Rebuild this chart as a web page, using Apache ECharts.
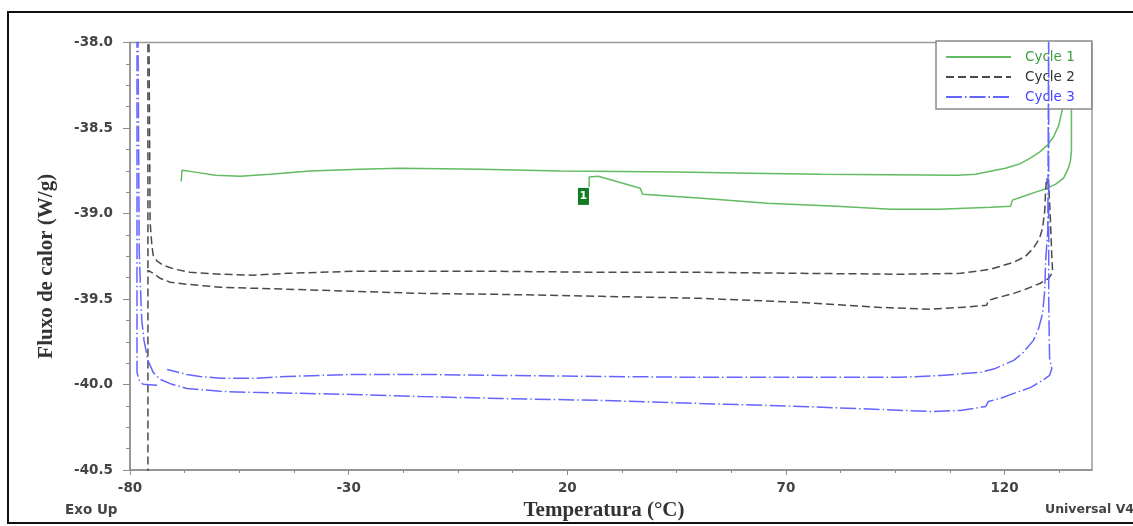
<!DOCTYPE html>
<html>
<head>
<meta charset="utf-8">
<title>Fluxo de calor x Temperatura</title>
<script src="https://cdn.jsdelivr.net/npm/echarts@6/dist/echarts.min.js"></script>
<style>
  html, body { margin: 0; padding: 0; background: #fff; }
  #chart { width: 1133px; height: 526px; }
</style>
</head>
<body>
<div id="chart"></div>
<script>
// Axis ticks (°C and W/g)
const xMajorTicks = [-80, -30, 20, 70, 120];
const yTicks = [-40.5, -40.0, -39.5, -39.0, -38.5, -38.0];

// Cycle 1: heating trace, overshoot at the top, cooling trace back to the marker
const cycle1Temp = [-68.3, -68.1, -65.1, -60.5, -54.8, -48.0, -38.8, -27.4, -18.2, 0.1, 18.4, 45.2, 61.9, 77.9,
  109.2, 113.4, 117.0, 120.2, 123.4, 125.9, 128.0, 129.8, 131.2, 132.4, 133.3, 134.0, 134.4, 134.9, 135.1,
  135.3, 135.3, 135.3, 135.1, 134.6, 133.5, 131.7, 129.8, 127.1, 123.7, 121.8, 121.4, 116.8, 105.1, 94.1,
  81.6, 65.8, 50.0, 37.2, 36.7, 27.1, 25.0, 25.0];
const cycle1Flow = [-38.812, -38.747, -38.758, -38.776, -38.782, -38.770, -38.752, -38.741, -38.735, -38.741,
  -38.752, -38.758, -38.764, -38.770, -38.776, -38.770, -38.752, -38.735, -38.711, -38.676, -38.641, -38.600,
  -38.553, -38.483, -38.383, -38.249, -38.102, -37.997, -37.90, -37.93, -38.383, -38.629, -38.688, -38.735,
  -38.793, -38.828, -38.852, -38.875, -38.905, -38.922, -38.957, -38.963, -38.975, -38.975, -38.957, -38.940,
  -38.910, -38.887, -38.852, -38.782, -38.787, -38.846];
const cycle1Marker = { label: '1', temp: 23.7, flow: -38.90 };

// Cycle 2: upper trace out and lower trace back
const cycle2Temp = [-75.7, -75.4, -75.0, -74.7, -73.8, -72.4, -69.7, -66.3, -59.4, -51.9, -44.1, -29.0, -13.6, 4.7,
  27.6, 50.4, 73.3, 96.2, 109.9, 116.8, 122.1, 124.8, 126.6, 128.0, 128.7, 129.2, 129.4, 129.6, 130.1, 130.5,
  130.8, 131.0, 130.1, 128.2, 124.8, 122.1, 117.9, 116.3, 115.9, 109.9, 103.1, 91.6, 73.3, 50.4, 27.6, 4.7,
  -13.6, -29.0, -44.1, -59.4, -67.0, -70.8, -73.1, -74.7, -75.9, -75.9];
const cycle2Flow = [-37.8, -39.05, -39.186, -39.244, -39.279, -39.303, -39.326, -39.344, -39.355, -39.361, -39.350,
  -39.338, -39.338, -39.338, -39.344, -39.344, -39.350, -39.355, -39.350, -39.326, -39.285, -39.250, -39.203,
  -39.145, -39.086, -38.981, -38.864, -38.793, -38.834, -39.039, -39.244, -39.344, -39.379, -39.408, -39.443,
  -39.467, -39.496, -39.508, -39.537, -39.549, -39.560, -39.549, -39.520, -39.496, -39.484, -39.473, -39.467,
  -39.455, -39.443, -39.431, -39.414, -39.402, -39.379, -39.350, -39.332, -40.7];
const cycle2SpikeTemp = [-75.9, -75.9];
const cycle2SpikeFlow = [-37.8, -39.332];

// Cycle 3: lower trace out and upper trace back
const cycle3Temp = [-78.2, -77.9, -77.5, -77.3, -76.8, -75.9, -74.7, -73.1, -70.4, -67.0, -59.4, -51.9, -29.0, -13.6,
  4.7, 27.6, 50.4, 73.3, 91.6, 103.1, 109.9, 115.7, 116.3, 119.1, 122.1, 126.0, 128.7, 130.3, 130.8, 130.3,
  130.1, 130.1, 130.1,
  129.9, 129.4, 129.2, 128.7, 127.8, 126.6, 124.3, 122.1, 117.9, 114.5, 105.4, 96.2, 73.3, 50.4, 27.6, 4.7,
  -13.6, -29.0, -44.1, -51.9, -59.4, -64.0, -67.0, -71.5];
const cycle3Flow = [-37.8, -39.215, -39.508, -39.625, -39.742, -39.859, -39.929, -39.970, -39.999, -40.023, -40.040,
  -40.046, -40.058, -40.070, -40.082, -40.093, -40.111, -40.128, -40.146, -40.158, -40.152, -40.128, -40.099,
  -40.081, -40.052, -40.017, -39.976, -39.947, -39.906, -39.847, -39.508, -38.337, -37.8,
  -39.098, -39.273, -39.449, -39.584, -39.672, -39.742, -39.812, -39.859, -39.906, -39.929, -39.947, -39.958,
  -39.958, -39.958, -39.953, -39.947, -39.941, -39.941, -39.953, -39.964, -39.964, -39.953, -39.941, -39.912];
const cycle3SpikeTemp = [-78.4, -78.4, -77.9, -77.0, -73.1];
const cycle3SpikeFlow = [-37.8, -39.929, -39.976, -39.999, -40.006];

const zip = (xs, ys) => xs.map((x, i) => [x, ys[i]]);

const COLORS = { c1: '#63bb63', c2: '#4a4a4a', c3: '#6464ff' };
const tickFont = { fontFamily: 'DejaVu Sans', fontWeight: 'bold', fontSize: 13.5, color: '#444' };
const titleFont = { fontFamily: 'Liberation Serif', fontWeight: 'bold', fontSize: 21, color: '#333' };

// Minor x ticks every 12.5 °C between the labelled ones
const xMinorTicks = [];
for (let t = xMajorTicks[0]; t <= 140; t += 12.5) {
  if (!xMajorTicks.includes(t)) xMinorTicks.push(t);
}

const lineSeries = (name, data, color, type, z) => ({
  name, type: 'line', data, symbol: 'none', smooth: false, z,
  xAxisIndex: 0, yAxisIndex: 0,
  lineStyle: { color, width: 1.5, type },
  itemStyle: { color }
});

const chart = echarts.init(document.getElementById('chart'), null, { renderer: 'canvas' });

chart.setOption({
  animation: false,
  backgroundColor: '#fff',
  grid: {
    left: 130, top: 42.5, right: 41, bottom: 56,
    show: true, borderColor: '#9a9a9a', borderWidth: 1.5, backgroundColor: 'transparent'
  },
  legend: {
    orient: 'vertical', left: 936, top: 41,
    itemWidth: 65, itemHeight: 14, itemGap: 6,
    padding: [9, 17, 5, 9],
    backgroundColor: '#fff', borderColor: '#8a8a8a', borderWidth: 1.5,
    itemStyle: { opacity: 0 },
    lineStyle: { width: 2 },
    textStyle: { fontFamily: 'DejaVu Sans', fontSize: 13.5, padding: [0, 0, 0, 9] },
    data: [
      { name: 'Cycle 1', textStyle: { color: '#3f9f3f' } },
      { name: 'Cycle 2', textStyle: { color: '#333' } },
      { name: 'Cycle 3', textStyle: { color: '#4646ff' } }
    ]
  },
  xAxis: [
    {
      type: 'value', min: -80, max: 140, position: 'bottom',
      axisLine: { show: true, onZero: false, lineStyle: { color: '#8c8c8c', width: 1.5 } },
      axisTick: { show: true, length: 5, customValues: xMajorTicks, lineStyle: { color: '#8c8c8c' } },
      axisLabel: Object.assign({ customValues: xMajorTicks, margin: 11, formatter: v => String(v) }, tickFont),
      splitLine: { show: false },
      name: 'Temperatura (°C)', nameLocation: 'middle', nameGap: 29,
      nameTextStyle: Object.assign({ padding: [0, 14, 0, 0] }, titleFont)
    },
    {
      type: 'value', min: -80, max: 140, position: 'bottom',
      axisLine: { show: false, onZero: false },
      axisTick: { show: true, length: 3, customValues: xMinorTicks, lineStyle: { color: '#8c8c8c' } },
      axisLabel: { show: false },
      splitLine: { show: false }
    }
  ],
  yAxis: {
    type: 'value', min: yTicks[0], max: yTicks[yTicks.length - 1], interval: 0.5,
    axisLine: { show: true, onZero: false, lineStyle: { color: '#8c8c8c', width: 1.5 } },
    axisTick: { show: true, length: 7, lineStyle: { color: '#8c8c8c' } },
    minorTick: { show: true, splitNumber: 4, length: 4, lineStyle: { color: '#8c8c8c' } },
    axisLabel: Object.assign({ margin: 17, formatter: v => v.toFixed(1) }, tickFont),
    splitLine: { show: false },
    name: 'Fluxo de calor (W/g)', nameLocation: 'middle', nameGap: 73, nameRotate: 90,
    nameTextStyle: Object.assign({ padding: [0, 20, 0, 0] }, titleFont)
  },
  series: [
    Object.assign(lineSeries('Cycle 1', zip(cycle1Temp, cycle1Flow), COLORS.c1, 'solid', 2), {
      markPoint: {
        symbol: 'rect', symbolSize: [11, 17],
        itemStyle: { color: '#127a1f' },
        label: { show: true, position: 'inside', color: '#fff', fontFamily: 'DejaVu Sans', fontWeight: 'bold', fontSize: 11, formatter: cycle1Marker.label },
        data: [{ coord: [cycle1Marker.temp, cycle1Marker.flow] }]
      }
    }),
    lineSeries('Cycle 2', zip(cycle2Temp, cycle2Flow), COLORS.c2, [8, 4], 3),
    lineSeries('Cycle 2', zip(cycle2SpikeTemp, cycle2SpikeFlow), COLORS.c2, [8, 4], 3),
    lineSeries('Cycle 3', zip(cycle3Temp, cycle3Flow), COLORS.c3, [16, 3, 1.5, 3], 4),
    lineSeries('Cycle 3', zip(cycle3SpikeTemp, cycle3SpikeFlow), COLORS.c3, [16, 3, 1.5, 3], 4)
  ],
  graphic: [
    {
      type: 'rect', silent: true, z: 100,
      shape: { x: 8, y: 12, width: 1140, height: 511 },
      style: { fill: null, stroke: '#111', lineWidth: 2 }
    },
    {
      type: 'text', left: 65, top: 503, silent: true,
      style: { text: 'Exo Up', fill: '#444', font: 'bold 13.5px "DejaVu Sans"' }
    },
    {
      type: 'text', left: 1045, top: 503, silent: true,
      style: { text: 'Universal V4', fill: '#444', font: 'bold 12.5px "DejaVu Sans"' }
    }
  ]
});
</script>
</body>
</html>
